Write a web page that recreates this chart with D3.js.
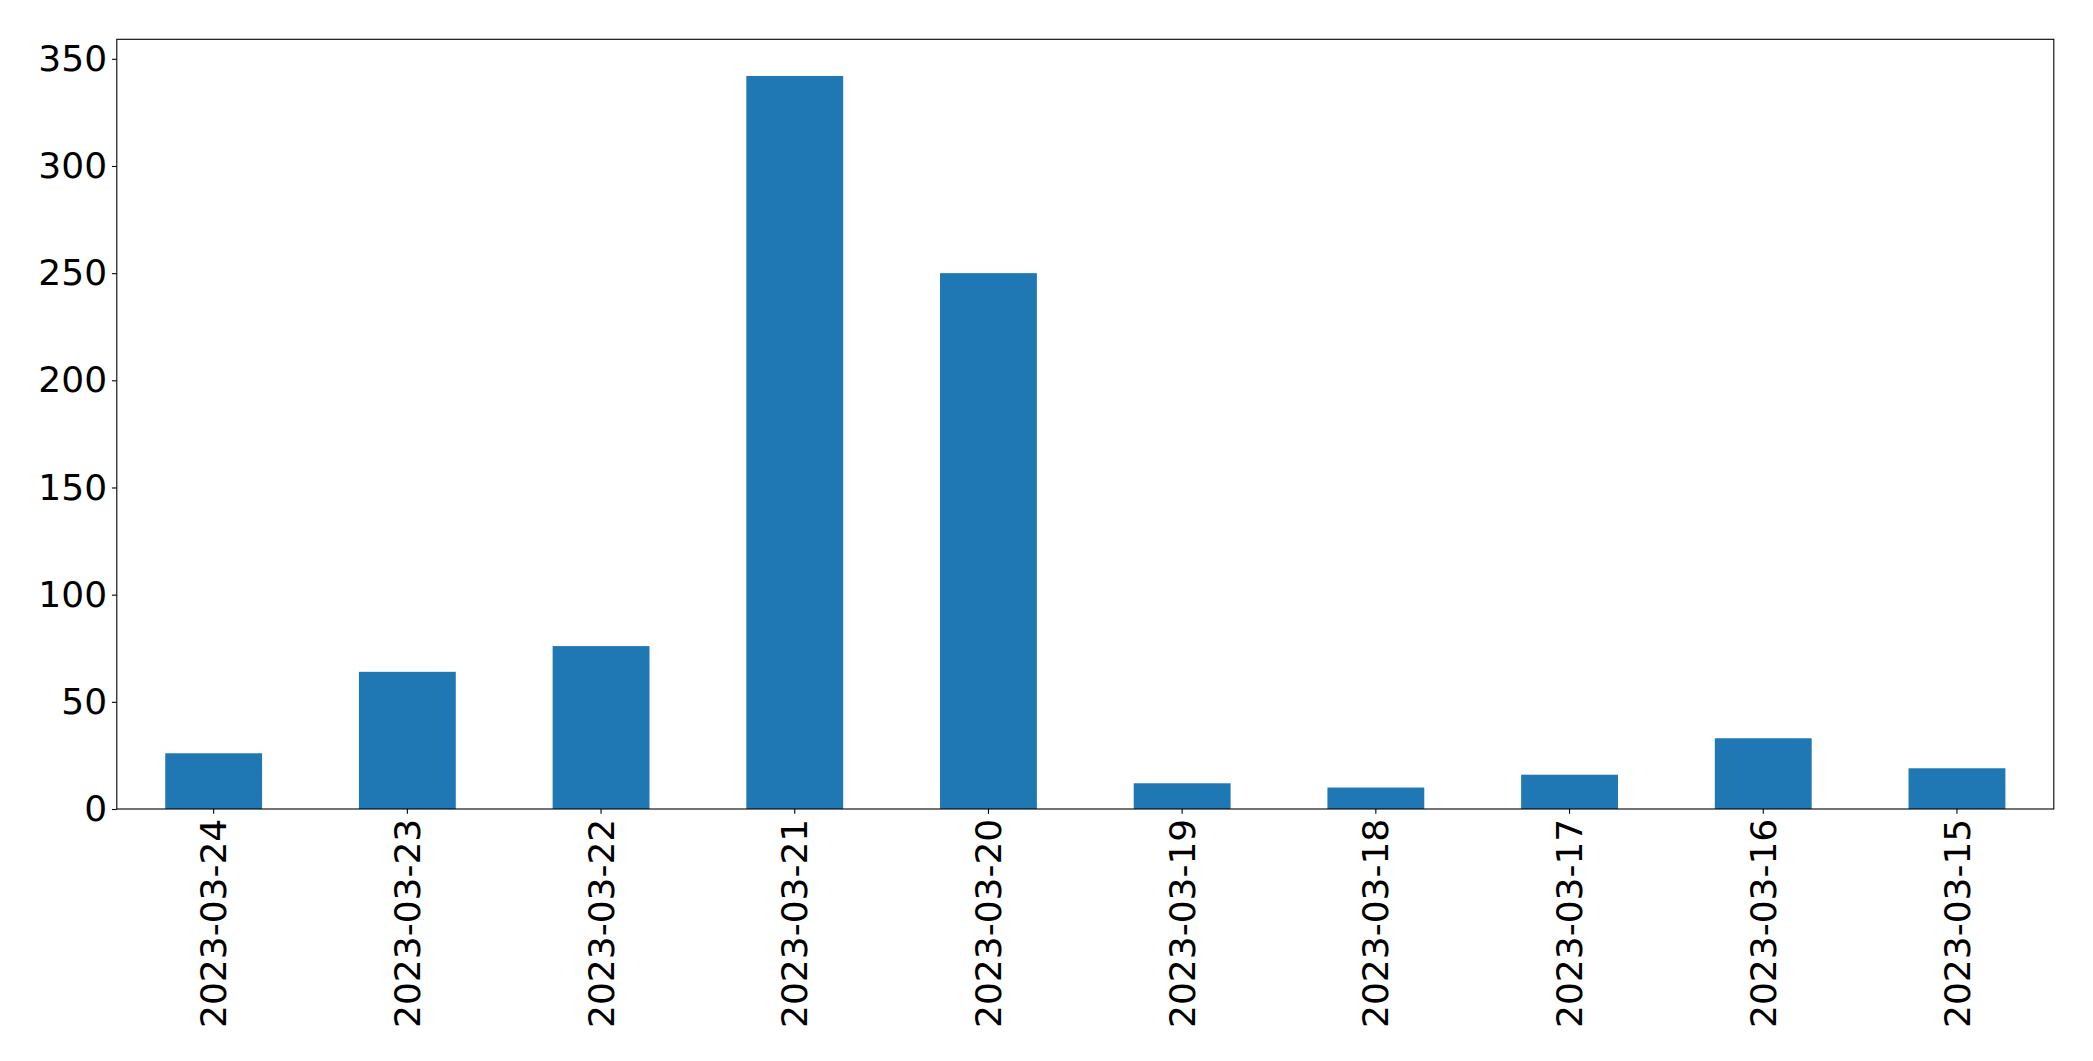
<!DOCTYPE html>
<html>
<head>
<meta charset="utf-8">
<script src="https://cdn.jsdelivr.net/npm/d3@7"></script>
<style>
  html, body { margin: 0; padding: 0; background: #fff; }
  svg { display: block; }
  text { font-family: "DejaVu Sans", sans-serif; fill: #000; }
</style>
</head>
<body>
<svg id="chart" width="2093" height="1061"></svg>
<script>
const categories = ["2023-03-24","2023-03-23","2023-03-22","2023-03-21","2023-03-20","2023-03-19","2023-03-18","2023-03-17","2023-03-16","2023-03-15"];
const values = [26, 64, 76, 342, 250, 12, 10, 16, 33, 19];
const yTicks = [0, 50, 100, 150, 200, 250, 300, 350];

const margin = {left: 116.8, right: 2053.8, top: 39.3, bottom: 809};
const fontSize = 36;
const tickLen = 4.86, tickPad = 4.86;

const svg = d3.select("#chart");

const x = d3.scaleBand()
  .domain(categories)
  .range([margin.left, margin.right])
  .paddingInner(0.5)
  .paddingOuter(0.25);

const yMax = d3.max(values) * 1.05;
const y = d3.scaleLinear().domain([0, yMax]).range([margin.bottom, margin.top]);

svg.append("g").selectAll("rect")
  .data(values)
  .join("rect")
  .attr("x", (d, i) => x(categories[i]))
  .attr("width", x.bandwidth())
  .attr("y", d => y(d))
  .attr("height", d => y(0) - y(d))
  .attr("fill", "#1f77b4");

// frame
svg.append("rect")
  .attr("x", margin.left).attr("y", margin.top)
  .attr("width", margin.right - margin.left)
  .attr("height", margin.bottom - margin.top)
  .attr("fill", "none").attr("stroke", "#000").attr("stroke-width", 1.1);

const yAxis = d3.axisLeft(y).tickValues(yTicks).tickSize(tickLen).tickPadding(tickPad).tickFormat(d3.format("d"));
const gy = svg.append("g").attr("transform", `translate(${margin.left},0)`).call(yAxis);
gy.select(".domain").remove();
gy.selectAll(".tick line").attr("stroke", "#000").attr("stroke-width", 1.1);
gy.selectAll(".tick text").attr("font-size", fontSize).attr("font-family", "DejaVu Sans").attr("fill", "#000");

const xAxis = d3.axisBottom(x).tickSize(tickLen).tickPadding(tickPad);
const gx = svg.append("g").attr("transform", `translate(0,${margin.bottom})`).call(xAxis);
gx.select(".domain").remove();
gx.selectAll(".tick line").attr("stroke", "#000").attr("stroke-width", 1.1);
gx.selectAll(".tick text")
  .attr("font-size", fontSize).attr("font-family", "DejaVu Sans").attr("fill", "#000")
  .attr("transform", `rotate(-90)`)
  .attr("x", -(tickLen + tickPad))
  .attr("y", 0)
  .attr("dy", "0.35em")
  .attr("text-anchor", "end");
</script>
</body>
</html>
